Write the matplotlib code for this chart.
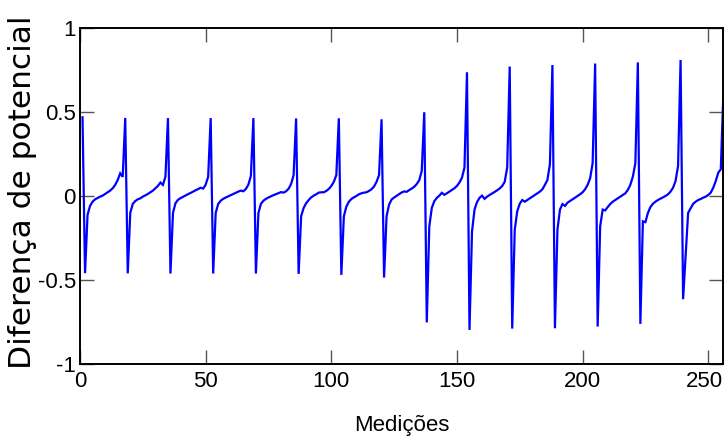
import matplotlib
matplotlib.use("Agg")
import matplotlib.pyplot as plt
from matplotlib import font_manager
from matplotlib.transforms import ScaledTranslation

# ---- data (sample index 1..256) ----
peaks = [0.470, 0.466, 0.465, 0.465, 0.465, 0.463, 0.464, 0.458,
         0.500, 0.738, 0.772, 0.781, 0.790, 0.797, 0.811]
troughs = [-0.459, -0.460, -0.461, -0.461, -0.461, -0.463, -0.469, -0.485,
           -0.752, -0.797, -0.789, -0.787, -0.777, -0.761, -0.614]
seg0 = [-0.112, -0.058, -0.033, -0.019, -0.011, -0.003, 0.003, 0.013, 0.023, 0.033, 0.047, 0.067, 0.096, 0.136, 0.115]
seg1 = [-0.100, -0.046, -0.029, -0.019, -0.013, -0.003, 0.005, 0.013, 0.023, 0.033, 0.047, 0.061, 0.081, 0.067, 0.116]
seg2 = [-0.100, -0.042, -0.022, -0.012, -0.004, 0.004, 0.012, 0.019, 0.027, 0.035, 0.042, 0.050, 0.045, 0.068, 0.115]
seg3 = [-0.100, -0.046, -0.027, -0.016, -0.008, -0.001, 0.006, 0.013, 0.020, 0.027, 0.033, 0.029, 0.043, 0.068, 0.120]
seg4 = [-0.100, -0.046, -0.027, -0.016, -0.008, -0.001, 0.006, 0.012, 0.018, 0.024, 0.021, 0.029, 0.044, 0.072, 0.125]
seg5 = [-0.120, -0.070, -0.042, -0.023, -0.007, 0.003, 0.011, 0.021, 0.023, 0.023, 0.031, 0.043, 0.060, 0.085, 0.125]
seg6 = [-0.120, -0.062, -0.033, -0.017, -0.007, 0.001, 0.011, 0.017, 0.021, 0.023, 0.031, 0.041, 0.057, 0.085, 0.125]
seg7 = [-0.120, -0.050, -0.020, -0.008, 0.002, 0.012, 0.022, 0.028, 0.026, 0.036, 0.045, 0.056, 0.072, 0.095, 0.150]
seg8 = [-0.180, -0.070, -0.030, -0.010, 0.003, 0.020, 0.008, 0.017, 0.027, 0.037, 0.047, 0.061, 0.081, 0.110, 0.170]
seg9 = [-0.210, -0.080, -0.035, -0.010, 0.003, -0.016, -0.003, 0.007, 0.016, 0.025, 0.035, 0.046, 0.060, 0.085, 0.170]
seg10 = [-0.200, -0.090, -0.045, -0.023, -0.033, -0.023, -0.013, -0.003, 0.007, 0.017, 0.027, 0.041, 0.067, 0.096, 0.190]
seg11 = [-0.200, -0.080, -0.047, -0.058, -0.039, -0.029, -0.019, -0.009, 0.001, 0.011, 0.023, 0.041, 0.067, 0.106, 0.196]
seg12 = [-0.180, -0.080, -0.085, -0.065, -0.047, -0.033, -0.023, -0.013, -0.003, 0.007, 0.017, 0.037, 0.067, 0.116, 0.196]
seg13 = [-0.150, -0.155, -0.100, -0.065, -0.045, -0.033, -0.023, -0.015, -0.007, 0.001, 0.011, 0.027, 0.050, 0.090, 0.180]
seg14 = [-0.360, -0.100, -0.072, -0.046, -0.033, -0.023, -0.017, -0.009, -0.003, 0.007, 0.021, 0.050, 0.090, 0.140, 0.160]
last_value = 0.60

segments = [seg0, seg1, seg2, seg3, seg4, seg5, seg6, seg7,
            seg8, seg9, seg10, seg11, seg12, seg13, seg14]

xticks = [0, 50, 100, 150, 200, 250]
yticks = [-1, -0.5, 0, 0.5, 1]
ytick_labels = ["-1", "-0.5", "0", "0.5", "1"]
xlabel = "Medições"
ylabel = "Diferença de potencial"

values = []
for p, t, s in zip(peaks, troughs, segments):
    values += [p, t] + s
values.append(last_value)
samples = list(range(1, len(values) + 1))

# ---- fonts: prefer a narrow face if one is installed ----
names = sorted({f.name for f in font_manager.fontManager.ttflist})
if "Liberation Sans Narrow" in names:
    tick_family, tick_size, xl_size = ["Liberation Sans Narrow", "DejaVu Sans"], 19, 19
elif "DejaVu Sans Condensed" in names:
    tick_family, tick_size, xl_size = ["DejaVu Sans Condensed", "DejaVu Sans"], 17, 17
else:
    tick_family, tick_size, xl_size = ["Liberation Sans", "DejaVu Sans"], 16, 16

fig = plt.figure(figsize=(7.25, 4.47), dpi=100)
ax = fig.add_axes([80 / 725, 83 / 447, 643.3 / 725, 335.7 / 447])

ax.plot(samples, values, color="#0000ff", lw=1.6, solid_joinstyle="miter")

ax.set_xlim(0, 256)
ax.set_ylim(-1, 1)
ax.set_xticks(xticks)
ax.set_xticklabels([str(v) for v in xticks])
ax.set_yticks(yticks)
ax.set_yticklabels(ytick_labels)

ax.tick_params(direction="in", length=10, width=1.0, color="#555555",
               top=True, right=True, labelcolor="black")
ax.tick_params(axis="x", pad=5)
ax.tick_params(axis="y", pad=3)
for lab in ax.get_xticklabels() + ax.get_yticklabels():
    lab.set_family(tick_family)
    lab.set_fontsize(tick_size)

# keep the last x tick label inside the figure, as in the reference
lastlab = ax.get_xticklabels()[-1]
lastlab.set_transform(lastlab.get_transform()
                      + ScaledTranslation(-4 / 100, 0, fig.dpi_scale_trans))

for sp in ax.spines.values():
    sp.set_linewidth(1.4)
    sp.set_color("black")

ax.set_xlabel(xlabel, family=tick_family, fontsize=xl_size, va="center")
ax.xaxis.set_label_coords(0.5, (22 - 83) / 335.7)
ax.set_ylabel(ylabel, family=["DejaVu Sans"], fontsize=22.5, va="center")
ax.yaxis.set_label_coords((23 - 80) / 643.3, (255 - 83) / 335.7)

fig.savefig("out.png", dpi=100)
